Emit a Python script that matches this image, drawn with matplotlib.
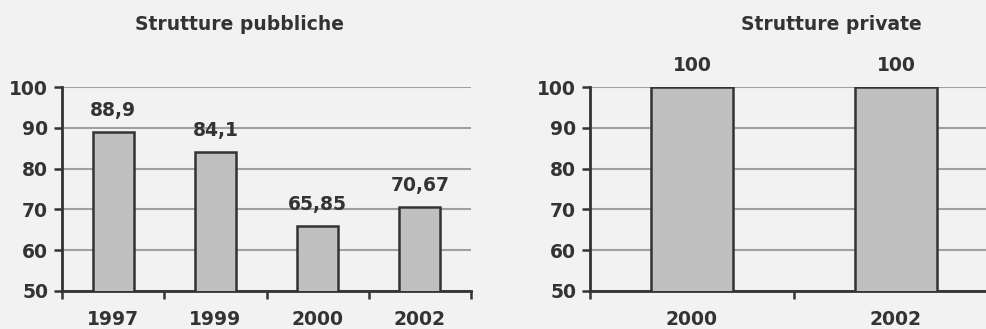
import matplotlib
matplotlib.use("Agg")
import matplotlib.pyplot as plt

years_pub = ["1997", "1999", "2000", "2002"]
vals_pub = [88.9, 84.1, 65.85, 70.67]
labels_pub = ["88,9", "84,1", "65,85", "70,67"]

years_priv = ["2000", "2002"]
vals_priv = [100, 100]
labels_priv = ["100", "100"]

title_pub = "Strutture pubbliche"
title_priv = "Strutture private"

W, H = 987, 329
BG = "#f2f2f2"
TXT = "#333333"
fig = plt.figure(figsize=(W / 100, H / 100), dpi=100, facecolor=BG)
plt.rcParams["font.family"] = "DejaVu Sans"
plt.rcParams["font.weight"] = "bold"

def px_axes(x0, x1, ytop, ybot):
    return fig.add_axes([x0 / W, (H - ybot) / H, (x1 - x0) / W, (ybot - ytop) / H])

def draw(ax, cats, vals, labs):
    n = len(cats)
    ax.set_facecolor(BG)
    pos = [i + 0.5 for i in range(n)]
    ax.bar(pos, vals, width=0.4, bottom=0, color="#c0c0c0", edgecolor=TXT, linewidth=1.8, zorder=3)
    ax.set_xlim(0, n)
    ax.set_ylim(50, 100)
    ax.set_yticks([50, 60, 70, 80, 90, 100])
    ax.yaxis.grid(True, color="#a0a0a0", linewidth=1.5, zorder=0)
    ax.set_axisbelow(True)
    ax.set_xticks(range(n + 1))
    ax.set_xticklabels([])
    ax.set_xticks(pos, minor=True)
    ax.set_xticklabels(cats, minor=True, fontsize=13.5, fontweight="bold", color=TXT)
    ax.tick_params(axis="x", which="minor", length=0, pad=14)
    ax.tick_params(axis="x", which="major", length=6, width=1.8, color=TXT, direction="out")
    ax.tick_params(axis="y", length=6, width=1.8, color=TXT, labelsize=13.5, labelcolor=TXT, pad=4)
    for t in ax.get_yticklabels():
        t.set_fontweight("bold")
    for s in ["top", "right"]:
        ax.spines[s].set_visible(False)
    for s in ["left", "bottom"]:
        ax.spines[s].set_color(TXT)
        ax.spines[s].set_linewidth(2)
    for p, v, l in zip(pos, vals, labs):
        ax.annotate(l, (p, v), xytext=(0, 12), textcoords="offset points"
                    if False else "offset pixels", ha="center", va="bottom",
                    fontsize=13.5, fontweight="bold", color=TXT, annotation_clip=False)

ax1 = px_axes(62, 471, 87, 291)
draw(ax1, years_pub, vals_pub, labels_pub)
ax2 = px_axes(590, 998, 87, 291)
draw(ax2, years_priv, vals_priv, labels_priv)

fig.text(240 / W, 1 - 25 / H, title_pub, ha="center", va="center", fontsize=13.5, fontweight="bold", color=TXT)
fig.text(831 / W, 1 - 25 / H, title_priv, ha="center", va="center", fontsize=13.5, fontweight="bold", color=TXT)

fig.savefig("out.png", dpi=100, facecolor=BG)
